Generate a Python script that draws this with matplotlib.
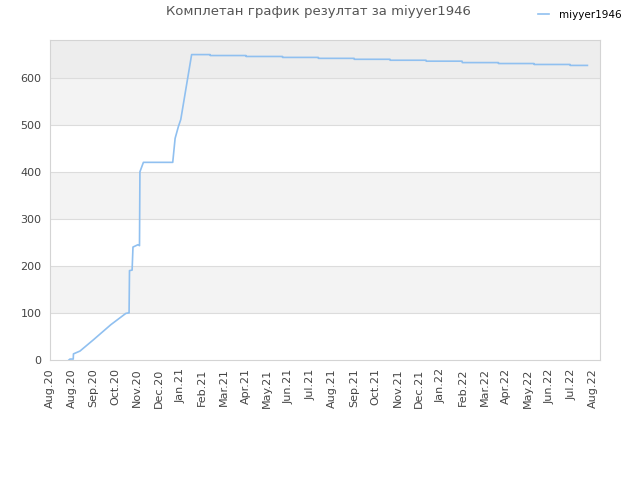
import matplotlib
matplotlib.use('Agg')
import matplotlib.pyplot as plt

# x is in month-tick units (0 = first "Aug.20" tick), y = score
x_vals = [0.87, 0.92, 1.07, 1.08, 1.38, 2.0, 2.8, 3.49, 3.60, 3.64, 3.66, 3.78, 3.82,
          4.05, 4.12, 4.14, 4.30, 5.65, 5.76, 5.91, 6.02, 6.52,
          7.37, 7.38, 9.02, 9.03, 10.70, 10.71, 12.35, 12.36, 14.00, 14.01,
          15.65, 15.66, 17.31, 17.32, 18.97, 18.98, 20.64, 20.65, 22.28, 22.29,
          23.94, 23.95, 24.74]
y_vals = [0, 2, 2, 13, 19, 43, 75, 99, 100, 100, 190, 191, 240,
          245, 243, 400, 420, 420, 471, 496, 511, 649,
          649, 647, 647, 645, 645, 643, 643, 641, 641, 639,
          639, 637, 637, 635, 635, 632, 632, 630, 630, 628,
          628, 626, 626]

tick_labels = ['Aug.20', 'Aug.20', 'Sep.20', 'Oct.20', 'Nov.20', 'Dec.20', 'Jan.21',
               'Feb.21', 'Mar.21', 'Apr.21', 'May.21', 'Jun.21', 'Jul.21', 'Aug.21',
               'Sep.21', 'Oct.21', 'Nov.21', 'Dec.21', 'Jan.22', 'Feb.22', 'Mar.22',
               'Apr.22', 'May.22', 'Jun.22', 'Jul.22', 'Aug.22']
y_ticks = [0, 100, 200, 300, 400, 500, 600]

fig = plt.figure(figsize=(6.4, 4.8), dpi=100)
ax = fig.add_axes([50/640, 120/480, 550/640, 320/480])

# alternating background bands
for lo in [100, 300, 500]:
    ax.axhspan(lo, lo + 100, color='#f3f3f3', zorder=0, lw=0)
ax.axhspan(600, 680, color='#ededed', zorder=0, lw=0)
for yt in y_ticks[1:]:
    ax.axhline(yt, color='#dcdcdc', lw=0.8, zorder=1)

ax.plot(x_vals, y_vals, color='#90c0f0', lw=1.2, label='miyyer1946', zorder=3)

ax.set_xlim(0, 25.32)
ax.set_ylim(0, 680)
ax.set_xticks(range(len(tick_labels)))
ax.set_xticklabels(tick_labels, rotation=90, fontsize=8, color='#444444')
ax.set_yticks(y_ticks)
ax.set_yticklabels([str(v) for v in y_ticks], fontsize=8, color='#444444')
ax.tick_params(length=0, pad=6)
for s in ax.spines.values():
    s.set_color('#d4d4d4')

fig.text(0.497, 0.975, 'Комплетан график резултат за miyyer1946', ha='center', va='center',
         fontsize=9.5, color='#555555')
fig.legend(loc='center', bbox_to_anchor=(580/640, 1 - 15/480), frameon=False,
           fontsize=7.5, handlelength=1.0, handletextpad=1.0)

plt.savefig('out.png')
